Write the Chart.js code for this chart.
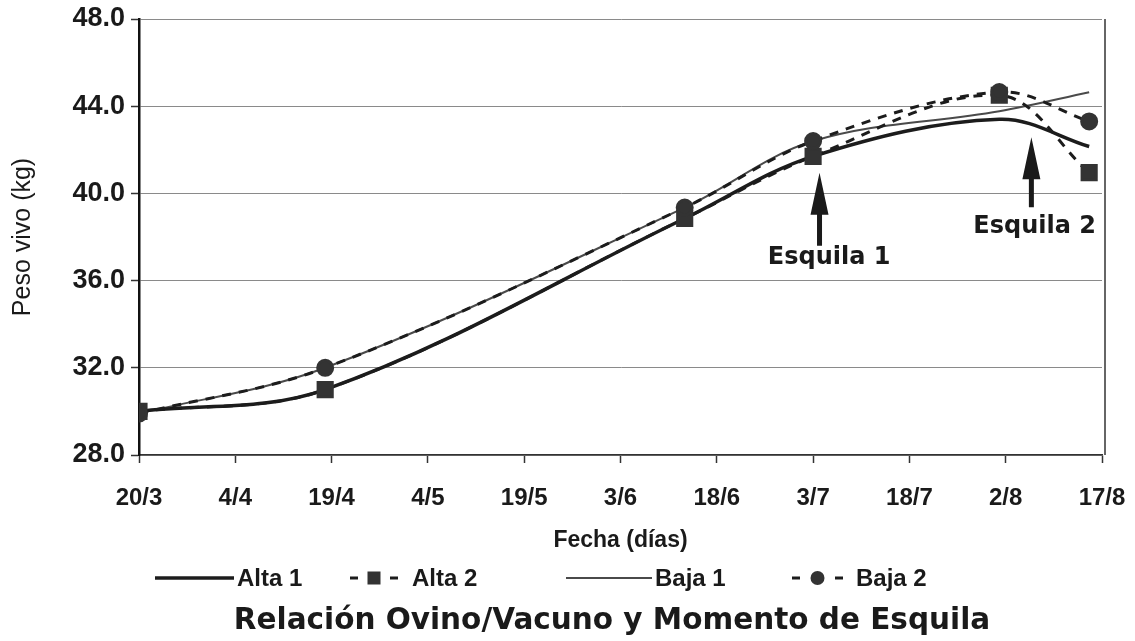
<!DOCTYPE html>
<html>
<head>
<meta charset="utf-8">
<script src="https://cdn.jsdelivr.net/npm/chart.js@4/dist/chart.umd.min.js"></script>
<style>
  html, body { margin: 0; padding: 0; background: #ffffff; }
  #wrap { width: 1135px; height: 641px; position: relative; }
</style>
</head>
<body>
<div id="wrap"><canvas id="c" width="1135" height="641"></canvas></div>
<script>
// ---- data ----
const fechas = ['20/3', '4/4', '19/4', '4/5', '19/5', '3/6', '18/6', '3/7', '18/7', '2/8', '17/8'];
const diasMedicion = [0, 29, 85, 105, 134, 148];   // days after 20/3
const alta1 = [30.0, 31.0, 38.85, 41.7, 43.4, 42.15];
const alta2 = [30.0, 31.0, 38.85, 41.7, 44.5, 40.95];
const baja1 = [29.9, 32.0, 39.35, 42.4, 43.77, 44.64];
const baja2 = [29.9, 32.0, 39.35, 42.4, 44.65, 43.3];
const yTicks = [28, 32, 36, 40, 44, 48];
const esquilaLabels = ['Esquila 1', 'Esquila 2'];
const esquilaDias = [106, 139];
const esquilaTip = [40.95, 42.57];
const esquilaBase = [37.6, 39.36];
const esquilaTextY = [37.05, 38.45];
const esquilaTextDia = [107.5, 139.5];

const pts = (vals) => diasMedicion.map((d, i) => ({ x: d, y: vals[i] }));

const INK = '#1c1c1c';
const MARK = '#333333';

const datasets = [
  { label: 'Alta 1', data: pts(alta1), borderColor: INK, borderWidth: 3.5, pointRadius: 0, order: 3, tension: 0.35 },
  { label: 'Alta 2', data: pts(alta2), borderColor: INK, borderWidth: 3, borderDash: [9, 8], pointStyle: 'rect', pointRadius: 10, pointBackgroundColor: MARK, pointBorderColor: MARK, order: 2, tension: 0.35 },
  { label: 'Baja 1', data: pts(baja1), borderColor: '#4a4a4a', borderWidth: 2, pointRadius: 0, order: 4, tension: 0.35 },
  { label: 'Baja 2', data: pts(baja2), borderColor: INK, borderWidth: 3, borderDash: [9, 8], pointStyle: 'circle', pointRadius: 7.5, pointBackgroundColor: MARK, pointBorderColor: MARK, order: 1, tension: 0.35 }
];

// right frame line of the plot area
const framePlugin = {
  id: 'frame',
  beforeDatasetsDraw(chart) {
    const { ctx, chartArea: a } = chart;
    ctx.save();
    ctx.strokeStyle = '#333';
    ctx.lineWidth = 1.5;
    ctx.beginPath();
    ctx.moveTo(a.right + 3, a.top);
    ctx.lineTo(a.right + 3, a.bottom);
    ctx.stroke();
    ctx.restore();
  }
};

// shearing arrows + labels, positioned through the scales
const esquilaPlugin = {
  id: 'esquila',
  afterDatasetsDraw(chart) {
    const { ctx, scales: { x, y } } = chart;
    ctx.save();
    ctx.fillStyle = '#1a1a1a';
    for (let i = 0; i < esquilaLabels.length; i++) {
      const px = x.getPixelForValue(esquilaDias[i]);
      const tip = y.getPixelForValue(esquilaTip[i]);
      const base = y.getPixelForValue(esquilaBase[i]);
      const headH = 42, headW = 18, shaftW = 5;
      ctx.beginPath();
      ctx.moveTo(px, tip);
      ctx.lineTo(px + headW / 2, tip + headH);
      ctx.lineTo(px + shaftW / 2, tip + headH);
      ctx.lineTo(px + shaftW / 2, base);
      ctx.lineTo(px - shaftW / 2, base);
      ctx.lineTo(px - shaftW / 2, tip + headH);
      ctx.lineTo(px - headW / 2, tip + headH);
      ctx.closePath();
      ctx.fill();
      ctx.font = 'bold 24px "DejaVu Sans"';
      ctx.textAlign = 'center';
      ctx.textBaseline = 'middle';
      ctx.fillText(esquilaLabels[i], x.getPixelForValue(esquilaTextDia[i]), y.getPixelForValue(esquilaTextY[i]));
    }
    ctx.restore();
  }
};

// custom legend (line + marker samples) and bottom title
const legendPlugin = {
  id: 'customLegend',
  afterDraw(chart) {
    const { ctx } = chart;
    const ds = chart.data.datasets;
    const ly = 578;
    ctx.save();
    ctx.font = 'bold 24px "Liberation Sans", Arial, sans-serif';
    ctx.textBaseline = 'middle';
    ctx.textAlign = 'left';
    ctx.fillStyle = '#1a1a1a';
    const items = [
      { d: ds[0], x0: 155, x1: 234, tx: 237 },
      { d: ds[1], x0: 350, x1: 398, tx: 412 },
      { d: ds[2], x0: 566, x1: 652, tx: 655 },
      { d: ds[3], x0: 792, x1: 843, tx: 856 }
    ];
    items.forEach(it => {
      const d = it.d;
      ctx.strokeStyle = d.borderColor;
      ctx.lineWidth = d.borderWidth;
      if (d.borderDash) {
        const mid = (it.x0 + it.x1) / 2;
        ctx.beginPath();
        ctx.moveTo(it.x0, ly); ctx.lineTo(it.x0 + 8, ly);
        ctx.moveTo(it.x1 - 8, ly); ctx.lineTo(it.x1, ly);
        ctx.stroke();
        ctx.fillStyle = d.pointBackgroundColor;
        if (d.pointStyle === 'rect') {
          ctx.fillRect(mid - 6.5, ly - 6.5, 13, 13);
        } else {
          ctx.beginPath(); ctx.arc(mid, ly, 7, 0, Math.PI * 2); ctx.fill();
        }
        ctx.fillStyle = '#1a1a1a';
      } else {
        ctx.beginPath();
        ctx.moveTo(it.x0, ly); ctx.lineTo(it.x1, ly);
        ctx.stroke();
      }
      ctx.fillText(d.label, it.tx, ly + 1);
    });
    ctx.font = 'bold 29.5px "DejaVu Sans"';
    ctx.textAlign = 'center';
    ctx.fillText('Relación Ovino/Vacuno y Momento de Esquila', 612, 621);
    ctx.restore();
  }
};

new Chart(document.getElementById('c'), {
  type: 'line',
  data: { datasets },
  options: {
    responsive: false,
    animation: false,
    layout: { padding: { left: 0, right: 33, top: 19, bottom: 87 } },
    plugins: { legend: { display: false }, tooltip: { enabled: false }, title: { display: false } },
    scales: {
      x: {
        type: 'linear',
        min: 0, max: 150,
        afterBuildTicks: (s) => { s.ticks = fechas.map((f, i) => ({ value: i * 15 })); },
        afterFit: (s) => { s.height = 99; s.paddingRight = 0; },
        ticks: {
          callback: (v) => fechas[Math.round(v / 15)],
          color: '#1a1a1a',
          font: { family: '"Liberation Sans", Arial, sans-serif', size: 24, weight: 'bold' },
          padding: 21,
          maxRotation: 0, autoSkip: false
        },
        grid: { drawOnChartArea: false, drawTicks: true, tickLength: 8, tickColor: '#333', tickWidth: 1.5 },
        border: { display: true, color: '#333', width: 1.5 },
        title: {
          display: true, text: 'Fecha (días)', color: '#1a1a1a',
          font: { family: '"Liberation Sans", Arial, sans-serif', size: 23, weight: 'bold' },
          padding: { top: 0, bottom: 0 }
        }
      },
      y: {
        min: 28, max: 48,
        afterBuildTicks: (s) => { s.ticks = yTicks.map(v => ({ value: v })); },
        afterFit: (s) => { s.width = 139; s.paddingTop = 0; },
        ticks: {
          callback: (v) => v.toFixed(1),
          color: '#1a1a1a',
          font: { family: '"Liberation Sans", Arial, sans-serif', size: 27, weight: 'bold' },
          padding: 6
        },
        grid: { color: '#8a8a8a', lineWidth: 1, tickLength: 8, tickColor: '#333', tickWidth: 1.5 },
        border: { display: true, color: '#111', width: 2.5 },
        title: {
          display: true, text: 'Peso vivo (kg)', color: '#1a1a1a',
          font: { family: '"Liberation Sans", Arial, sans-serif', size: 25 },
          padding: { top: 8, bottom: 0 }
        }
      }
    }
  },
  plugins: [framePlugin, esquilaPlugin, legendPlugin]
});
</script>
</body>
</html>
